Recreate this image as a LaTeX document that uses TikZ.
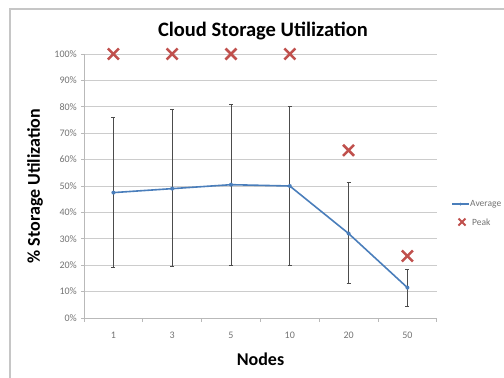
\documentclass[tikz,border=0pt]{standalone}
\usepackage{fontspec}
\setmainfont{Carlito}
\usetikzlibrary{positioning}
\definecolor{avgblue}{RGB}{74,126,187}
\definecolor{peakred}{RGB}{192,80,77}

\begin{document}
\begin{tikzpicture}[
        x=1pt, y=-1pt,
        frame/.style={
            draw=gray!45,
            line width=1.2pt
        },
        gridline/.style={
            draw=gray!40,
            line width=0.8pt
        },
        axisline/.style={
            draw=gray!55,
            line width=0.8pt
        },
        ticklab/.style={
            font=\fontsize{10}{11}\selectfont,
            text=black!55,
            inner sep=1pt
        },
        leglab/.style={
            ticklab,
            font=\fontsize{9.5}{11}\selectfont
        },
        errbar/.style={
            draw=black!70,
            line width=0.8pt
        },
        avgline/.style={
            draw=avgblue,
            line width=1.6pt
        },
        avgmark/.style={
            circle,
            fill=avgblue,
            inner sep=0pt,
            minimum size=4pt
        },
        peakmark/.style={
            draw=peakred,
            line width=2.5pt
        },
        axtitle/.style={
            font=\bfseries\fontsize{18}{20}\selectfont
        }
        ]

        \useasboundingbox (0,0) rectangle (504,378);
        \clip (0,0) rectangle (504,378);

        % outer frame
        \draw [frame] (10,380) -- (10,9) -- (506,9);

        % grid and value labels
        \foreach \p in {10,20,...,100}
            \draw [gridline] (84,{318-2.64*\p}) -- (437,{318-2.64*\p});
        \foreach \p in {0,10,...,100} {
            \draw [axisline] (81,{318-2.64*\p}) -- (84,{318-2.64*\p});
            \node [ticklab, anchor=east] at (78,{318-2.64*\p}) {\p\%};
        }

        % axes
        \draw [axisline] (84,54) -- (84,318) -- (437,318);
        \foreach \k in {0,...,6}
            \draw [axisline] ({84+58.8*\k},318) -- ({84+58.8*\k},322);

        % data: index / label / average / low / high / peak
        \foreach \n/\lab/\avg/\lo/\hi/\pk in {
                1/1/47.5/19/76/100,
                2/3/49/19.5/79/100,
                3/5/50.5/20/81/100,
                4/10/50/20/80/100,
                5/20/32/13/51.5/63.5,
                6/50/11.5/4.5/18.5/23.5} {
            \coordinate (a\n) at ({84+58.8*(\n-0.5)},{318-2.64*\avg});
            \coordinate (lo\n) at ({84+58.8*(\n-0.5)},{318-2.64*\lo});
            \coordinate (hi\n) at ({84+58.8*(\n-0.5)},{318-2.64*\hi});
            \coordinate (pk\n) at ({84+58.8*(\n-0.5)},{318-2.64*\pk});
            \node [ticklab] (c\n) at ({84+58.8*(\n-0.5)},335) {\lab};
            \draw [errbar] (lo\n) -- (hi\n);
            \draw [errbar] ([xshift=-2pt]lo\n) -- ([xshift=2pt]lo\n);
            \draw [errbar] ([xshift=-2pt]hi\n) -- ([xshift=2pt]hi\n);
            \draw [peakmark] ([shift={(-5.5,-5.5)}]pk\n) -- ([shift={(5.5,5.5)}]pk\n);
            \draw [peakmark] ([shift={(-5.5,5.5)}]pk\n) -- ([shift={(5.5,-5.5)}]pk\n);
        }

        \draw [avgline] (a1) -- (a2) -- (a3) -- (a4) -- (a5) -- (a6);
        \foreach \n in {1,...,6}
            \node [avgmark] at (a\n) {};

        % titles
        \node [axtitle, font=\bfseries\fontsize{20.5}{22}\selectfont] (title) at (263,31) {Cloud Storage Utilization};
        \node [axtitle, rotate=90] (ytitle) at (35,186) {\% Storage Utilization};
        \node [axtitle] (xtitle) at (260.5,359) {Nodes};

        % legend
        \coordinate (lgA) at (452,204);
        \coordinate (lgB) at (469,204);
        \coordinate (lgM) at (460.5,204);
        \coordinate (lgP) at (462,222);
        \draw [avgline, line width=1.2pt] (lgA) -- (lgB);
        \node [avgmark, minimum size=3pt] at (lgM) {};
        \node [leglab, anchor=west] (lavg) at (469,204) {Average};
        \draw [peakmark, line width=1.8pt] ([shift={(-3.5,-3.5)}]lgP) -- ([shift={(3.5,3.5)}]lgP);
        \draw [peakmark, line width=1.8pt] ([shift={(-3.5,3.5)}]lgP) -- ([shift={(3.5,-3.5)}]lgP);
        \node [leglab, anchor=west] (lpeak) at (471,222) {Peak};

    \end{tikzpicture}
\end{document}
